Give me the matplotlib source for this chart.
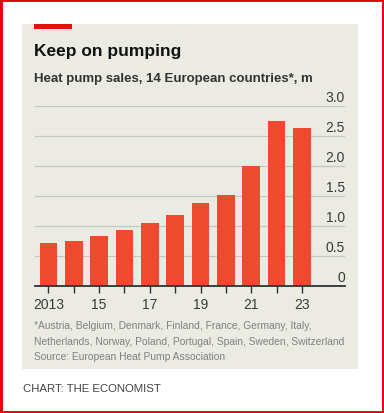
import matplotlib
matplotlib.use("Agg")
import matplotlib.pyplot as plt
from matplotlib.patches import Rectangle
from matplotlib.transforms import blended_transform_factory

years = list(range(2013, 2024))
sales = [0.72, 0.745, 0.84, 0.94, 1.045, 1.18, 1.39, 1.52, 2.0, 2.75, 2.63]
yticks = [0, 0.5, 1.0, 1.5, 2.0, 2.5, 3.0]
ytick_labels = ["0", "0.5", "1.0", "1.5", "2.0", "2.5", "3.0"]
xtick_years = [2013, 2015, 2017, 2019, 2021, 2023]
xtick_labels = ["2013", "15", "17", "19", "21", "23"]

title = "Keep on pumping"
subtitle = "Heat pump sales, 14 European countries*, m"
footnote = ["*Austria, Belgium, Denmark, Finland, France, Germany, Italy,",
            "Netherlands, Norway, Poland, Portugal, Spain, Sweden, Switzerland",
            "Source: European Heat Pump Association"]
credit = "CHART: THE ECONOMIST"

W, H = 384, 414
BAR = "#ee4a30"
PANEL = "#ebeae3"

plt.rcParams["font.family"] = ["Liberation Sans", "DejaVu Sans"]

fig = plt.figure(figsize=(W / 100, H / 100), dpi=100)
fig.patch.set_facecolor("white")


def px(x, y):
    # pixel coords from top-left -> figure fraction
    return x / W, 1 - y / H


# grey panel
x0, y0 = px(22, 370)
fig.patches.append(Rectangle((x0, y0), 336 / W, 345 / H, transform=fig.transFigure,
                             facecolor=PANEL, edgecolor="none", zorder=-2))
# red tag
x0, y0 = px(34, 30)
fig.patches.append(Rectangle((x0, y0), 38 / W, 5 / H, transform=fig.transFigure,
                             facecolor="#e3120b", edgecolor="none", zorder=-1))
# red outer frame
fig.patches.append(Rectangle((0, 0), 1, 1, transform=fig.transFigure,
                             fill=False, edgecolor="#e3000f", linewidth=3.5, zorder=5))

fig.text(*px(34, 56), title, fontsize=12.5, fontweight="bold", color="#121212",
         va="baseline", ha="left")
fig.text(*px(34, 82), subtitle, fontsize=9.5, fontweight="bold", color="#333333",
         va="baseline", ha="left")

ax_l, ax_r, ax_top, ax_bot = 35, 345, 107, 287
ax = fig.add_axes([ax_l / W, 1 - ax_bot / H, (ax_r - ax_l) / W, (ax_bot - ax_top) / H])
ax.set_facecolor("none")
ax.bar(years, sales, width=0.69, color=BAR, zorder=2)
ax.set_xlim(2012.47, 2024.7)
ax.set_ylim(0, 3.0)

for v in yticks[1:]:
    ax.axhline(v, color="#c6c6c0", linewidth=0.9, zorder=1)
ax.axhline(0, color="#2a3436", linewidth=1.3, zorder=3, clip_on=False)

trans = blended_transform_factory(ax.transAxes, ax.transData)
for v, lab in zip(yticks, ytick_labels):
    ax.text(1.0, v + 0.04, lab, transform=trans, ha="right", va="bottom",
            fontsize=10, color="#3a3a3a")

for s in ax.spines.values():
    s.set_visible(False)
ax.set_yticks([])
ax.set_xticks(years)
ax.set_xticklabels([xtick_labels[xtick_years.index(y)] if y in xtick_years else ""
                    for y in years])
ax.tick_params(axis="x", length=5, width=1, color="#2a3436", pad=3,
               labelsize=10, labelcolor="#3a3a3a")

for i, line in enumerate(footnote):
    fig.text(*px(34, 329 + i * 15.7), line, fontsize=7.4, color="#808080",
             va="baseline", ha="left")
fig.text(*px(23, 392), credit, fontsize=8.2, color="#444444", va="baseline", ha="left")

fig.savefig("out.png", dpi=100, facecolor=fig.get_facecolor())
